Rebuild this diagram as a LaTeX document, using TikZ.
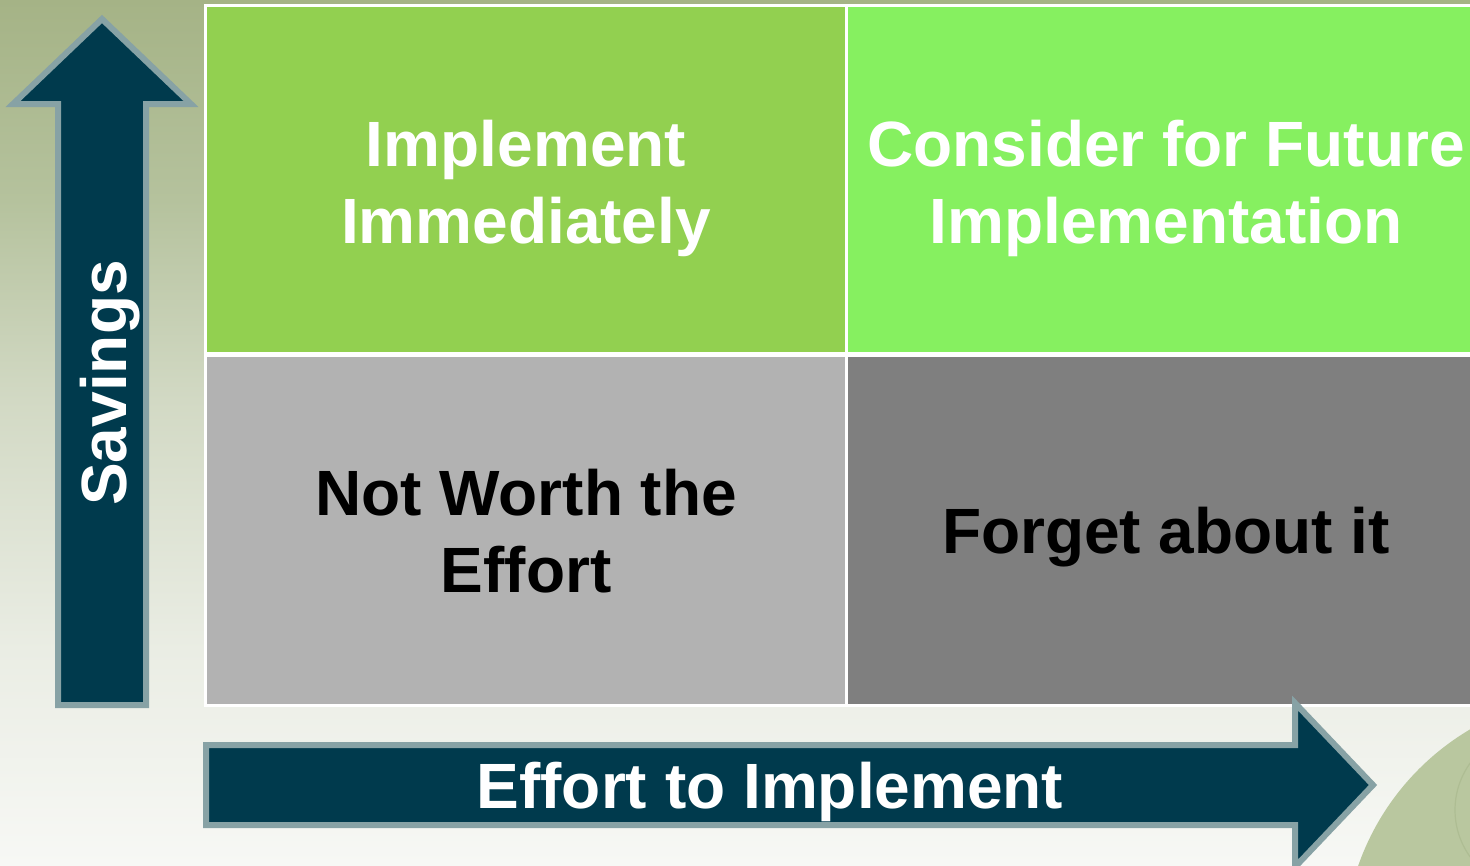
\documentclass[tikz,border=0pt]{standalone}
\usepackage{fontspec}
\setmainfont{Liberation Sans}
\definecolor{bgtop}{HTML}{A5B386}
\definecolor{bgupper}{HTML}{B5C29D}
\definecolor{bgmid}{HTML}{D2D9C4}
\definecolor{bglow}{HTML}{EAEDE4}
\definecolor{bgbot}{HTML}{F7F8F5}
\definecolor{disc}{HTML}{B9C79F}
\definecolor{discring}{HTML}{AEBD93}
\definecolor{arrowfill}{HTML}{003A4D}
\definecolor{arrowedge}{HTML}{87A2A5}
\definecolor{quickwin}{HTML}{92D050}
\definecolor{future}{HTML}{86F060}
\definecolor{lowgain}{HTML}{B2B2B2}
\definecolor{skipit}{HTML}{7F7F7F}
% TikZ maps the band 25bp..75bp of a shading onto the shaded path
\pgfdeclareverticalshading{pagefade}{100bp}{%
  color(0bp)=(bgbot); color(25bp)=(bgbot); color(37.45bp)=(bglow);
  color(51.9bp)=(bgmid); color(63.45bp)=(bgupper); color(75bp)=(bgtop);
  color(100bp)=(bgtop)}
\begin{document}
\begin{tikzpicture}[x=1pt,y=-1pt,
  cell/.style={draw=none,inner sep=0pt,minimum width=638pt,minimum height=345pt},
  bigarrow/.style={fill=arrowfill,draw=arrowedge,line width=6pt,line join=miter},
  label/.style={font=\fontsize{64}{77}\selectfont\bfseries,align=center,inner sep=0pt,anchor=base}]
  \useasboundingbox (0,0) rectangle (1470,865);
  \clip (0,0) rectangle (1470,865);
  % page background
  \shade[shading=pagefade] (0,0) rectangle (1470,865);
  % decorative disc in the lower right corner
  \fill[disc] (1600,950) circle[radius=256];
  \draw[discring,line width=1.2pt] (1535,810) circle[radius=80];
  % white frame behind the four quadrants
  \fill[white] (204,4) rectangle (1500,707);
  % quadrants
  \node[cell,fill=quickwin,anchor=north west] (tl) at (207,7) {};
  \node[cell,fill=future,anchor=north west,minimum width=652pt] (tr) at (848,7) {};
  \node[cell,fill=lowgain,anchor=north west,minimum height=347pt] (bl) at (207,357) {};
  \node[cell,fill=skipit,anchor=north west,minimum width=652pt,minimum height=347pt] (br) at (848,357) {};
  % quadrant texts (base anchor sits on the last line)
  \node[label,text=white] (tlt) at (526,243) {Implement\\Immediately};
  \node[label,text=white] (trt) at (1166,243) {Consider for Future\\Implementation};
  \node[label,text=black] (blt) at (526,592) {Not Worth the\\Effort};
  \node[label,text=black] (brt) at (1166,553) {Forget about it};
  % vertical axis arrow
  \draw[bigarrow] (58,705) -- (58,104) -- (13,104) -- (102,19) -- (191,104)
    -- (146,104) -- (146,705) -- cycle;
  \node[label,text=white,rotate=90] (savings) at (126,383) {Savings};
  % horizontal axis arrow
  \draw[bigarrow] (206,745) -- (1295,745) -- (1295,703) -- (1373,785)
    -- (1295,867) -- (1295,825) -- (206,825) -- cycle;
  \node[label,text=white] (effort) at (770,808) {Effort to Implement};
\end{tikzpicture}
\end{document}
